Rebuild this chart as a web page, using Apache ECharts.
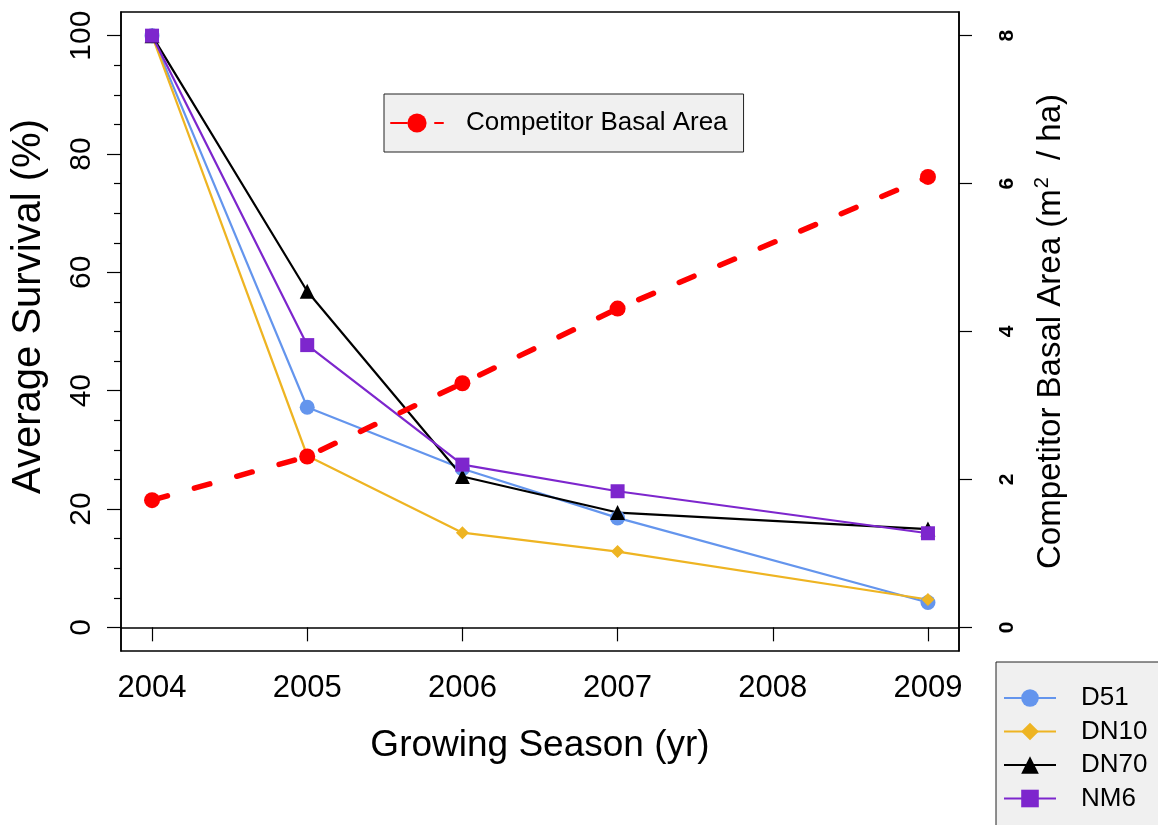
<!DOCTYPE html>
<html>
<head>
<meta charset="utf-8">
<script src="https://cdn.jsdelivr.net/npm/echarts@6/dist/echarts.min.js"></script>
<style>
html,body{margin:0;padding:0;background:#fff;}
#chart{width:1158px;height:825px;}
</style>
</head>
<body>
<div id="chart"></div>
<script>
// ---- data ----
const years = [2004, 2005, 2006, 2007, 2009];
const d51 = [100, 37.2, 26.8, 18.5, 4.2];
const dn10 = [100, 29.0, 16.0, 12.8, 4.7];
const dn70 = [100, 56.8, 25.5, 19.4, 16.6];
const nm6 = [100, 47.7, 27.5, 23.0, 15.9];
const competitor = [1.72, 2.31, 3.30, 4.31, 6.09];
const xTicks = [2004, 2005, 2006, 2007, 2008, 2009];
const leftTicks = [0, 20, 40, 60, 80, 100];
const leftMinorTicks = [5, 10, 15, 25, 30, 35, 45, 50, 55, 65, 70, 75, 85, 90, 95];
const rightTicks = [0, 2, 4, 6, 8];

const FONT = '"Liberation Sans", Helvetica, Arial, sans-serif';
const pair = (ys) => years.map((x, i) => [x, ys[i]]);
const plain = (v) => String(v);

const chart = echarts.init(document.getElementById('chart'), null, {renderer: 'canvas'});

function lineSeries(name, data, color, symbol, size) {
  return {
    name: name, type: 'line', xAxisIndex: 0, yAxisIndex: 0,
    data: pair(data),
    symbol: symbol, symbolSize: size,
    lineStyle: {color: color, width: 2.2},
    itemStyle: {color: color},
    emphasis: {disabled: true},
    animation: false
  };
}

const option = {
  animation: false,
  backgroundColor: '#ffffff',
  textStyle: {fontFamily: FONT},
  grid: {left: 121, right: 199, top: 12, bottom: 174, show: true, borderColor: '#000', borderWidth: 1.5,
         backgroundColor: 'transparent', containLabel: false, outerBoundsMode: 'none'},
  xAxis: [{
    type: 'value', min: 2003.8, max: 2009.2,
    axisLine: {show: true, lineStyle: {color: '#000', width: 1.5}},
    axisTick: {show: true, customValues: xTicks, length: 14, lineStyle: {color: '#000', width: 1.2}},
    axisLabel: {customValues: xTicks, formatter: plain, fontSize: 31, color: '#000', margin: 22, fontFamily: FONT},
    splitLine: {show: false},
    name: 'Growing Season (yr)', nameLocation: 'middle', nameGap: 76,
    nameTextStyle: {fontSize: 37, color: '#000', fontFamily: FONT}
  }],
  yAxis: [{
    type: 'value', position: 'left', min: -4, max: 104,
    axisLine: {show: true, lineStyle: {color: '#000', width: 1.5}},
    axisTick: {show: true, customValues: leftTicks, length: 14, lineStyle: {color: '#000', width: 1.2}},
    axisLabel: {customValues: leftTicks, formatter: plain, fontSize: 30, color: '#000', rotate: 90, margin: 24, fontFamily: FONT},
    splitLine: {show: false},
    name: '{gap|}Average Survival (%)', nameLocation: 'middle', nameRotate: 90, nameGap: 72,
    nameTextStyle: {fontSize: 40, color: '#000', fontFamily: FONT,
      rich: {gap: {width: 50, fontSize: 40}}}
  }, {
    type: 'value', position: 'right', min: -0.32, max: 8.32,
    axisLine: {show: true, lineStyle: {color: '#000', width: 1.5}},
    axisTick: {show: true, customValues: rightTicks, length: 13, lineStyle: {color: '#000', width: 1.2}},
    axisLabel: {customValues: rightTicks, formatter: plain, fontSize: 21, fontWeight: 'bold', color: '#000', rotate: 90, margin: 38, fontFamily: FONT},
    splitLine: {show: false},
    name: 'Competitor Basal Area (m{sup|2} / ha)', nameLocation: 'middle', nameRotate: 90, nameGap: 73,
    nameTextStyle: {fontSize: 33, color: '#000', fontFamily: FONT,
      rich: {sup: {fontSize: 20, verticalAlign: 'top', padding: [0, 8, 18, 1], fontFamily: FONT, color: '#000'}}}
  }, {
    type: 'value', position: 'left', min: -4, max: 104,
    axisLine: {show: false},
    axisTick: {show: true, customValues: leftMinorTicks, length: 7, lineStyle: {color: '#000', width: 1.2}},
    axisLabel: {show: false},
    splitLine: {show: false}
  }],
  legend: [{
    data: ['Competitor Basal Area'],
    left: 384, top: 94, orient: 'horizontal',
    padding: [16, 16, 16, 6],
    backgroundColor: '#f0f0f0', borderColor: '#222', borderWidth: 1,
    itemWidth: 52, itemHeight: 24,
    textStyle: {fontSize: 26, color: '#000', fontFamily: FONT, padding: [0, 0, 0, 18]},
    selectedMode: false
  }, {
    data: ['D51', 'DN10', 'DN70', 'NM6'],
    left: 996, top: 662, orient: 'vertical',
    width: 300, height: 400,
    padding: [22, 80, 40, 7],
    itemGap: 5.5,
    backgroundColor: '#f0f0f0', borderColor: '#222', borderWidth: 1,
    itemWidth: 52, itemHeight: 22,
    textStyle: {fontSize: 26, lineHeight: 28, color: '#000', fontFamily: FONT, padding: [0, 0, 0, 20]},
    selectedMode: false
  }],
  series: [
    lineSeries('D51', d51, '#6495ED', 'circle', 15),
    lineSeries('DN10', dn10, '#EEB422', 'diamond', 13),
    lineSeries('DN70', dn70, '#000000', 'triangle', 15),
    lineSeries('NM6', nm6, '#7D26CD', 'rect', 14),
    {
      name: 'Competitor Basal Area', type: 'line', xAxisIndex: 0, yAxisIndex: 1,
      data: pair(competitor),
      symbol: 'circle', symbolSize: 16,
      lineStyle: {color: '#FF0000', width: 5.5, type: [16, 28], cap: 'round'},
      itemStyle: {color: '#FF0000'},
      emphasis: {disabled: true},
      animation: false
    }
  ]
};
chart.setOption(option);
</script>
</body>
</html>
